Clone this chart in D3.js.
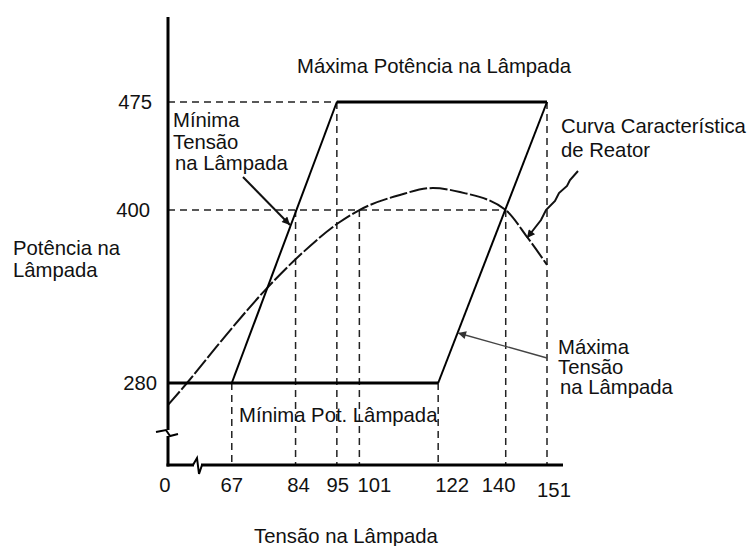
<!DOCTYPE html>
<html>
<head>
<meta charset="utf-8">
<script src="https://cdn.jsdelivr.net/npm/d3@7"></script>
<style>
  html, body { margin: 0; padding: 0; background: #fff; }
  svg { display: block; }
  text { font-family: "Liberation Sans", Arial, Helvetica, sans-serif; fill: #111; }
</style>
</head>
<body>
<svg id="chart" width="755" height="546"></svg>
<script>
// ---------- DATA ----------
const xTicks = [0, 67, 84, 95, 101, 122, 140, 151];
const yTicks = [280, 400, 475];

// Trapezoid of operating limits (tensão, potência)
const minPowerLine   = [[0, 280], [122, 280]];
const maxPowerLine   = [[95, 475], [151, 475]];
const minVoltageLine = [[67, 280], [95, 475]];
const maxVoltageLine = [[122, 280], [151, 475]];

// Ballast characteristic curve
const curveTensao   = [0, 36.7, 64.4, 75.9, 85.2, 95.8, 101, 111.8, 120.6, 127.8, 140, 145.7, 151];
const curvePotencia = [264.7, 280, 309.8, 344.5, 368.8, 391.7, 400, 410.5, 415.3, 412.5, 400, 381.3, 362];

// Dashed reference lines
const hGuides = [[475, 95], [400, 140]];           // [potência, até tensão]
const vGuides = [[67, 280], [84, 400], [95, 475], [101, 400], [122, 280], [140, 400], [151, 475]];

// ---------- SCALES ----------
const svg = d3.select("#chart");
const x = d3.scaleLinear().domain([0, 58, 151]).range([168, 198, 547]);
const y = d3.scaleLinear().domain([280, 475]).range([383, 102]);
const xAxisEnd = 563, yAxisTop = 17, xAxisY = 465;

const FS = 20.3;
const line = d3.line().x(d => x(d[0])).y(d => y(d[1]));

// markers
const defs = svg.append("defs");
function marker(id, color) {
  defs.append("marker").attr("id", id).attr("viewBox", "0 0 10 10")
    .attr("refX", 10).attr("refY", 5).attr("markerWidth", 13).attr("markerHeight", 8)
    .attr("markerUnits", "userSpaceOnUse").attr("orient", "auto")
    .append("path").attr("d", "M0,0 L10,5 L0,10 z").attr("fill", color);
}
marker("arrB", "#111");
marker("arrG", "#333");

// ---------- GUIDES ----------
const g = svg.append("g");
hGuides.forEach(([p, t]) => {
  g.append("line").attr("x1", x(0)).attr("x2", x(t)).attr("y1", y(p)).attr("y2", y(p))
    .attr("stroke", "#222").attr("stroke-width", 1.5).attr("stroke-dasharray", "7,5");
});
vGuides.forEach(([t, p]) => {
  g.append("line").attr("x1", x(t)).attr("x2", x(t)).attr("y1", y(p)).attr("y2", xAxisY)
    .attr("stroke", "#222").attr("stroke-width", 1.5).attr("stroke-dasharray", "7,5");
});

// ---------- CURVE ----------
const curveData = curveTensao.map((t, i) => [t, curvePotencia[i]]);
g.append("path").datum(curveData)
  .attr("d", d3.line().x(d => x(d[0])).y(d => y(d[1])).curve(d3.curveMonotoneX))
  .attr("fill", "none").attr("stroke", "#111").attr("stroke-width", 2)
  .attr("stroke-dasharray", "18,2.5");

// ---------- TRAPEZOID ----------
[[minPowerLine, 3], [maxPowerLine, 3], [minVoltageLine, 2], [maxVoltageLine, 2]].forEach(([d, w]) => {
  g.append("path").datum(d).attr("d", line).attr("fill", "none")
    .attr("stroke", "#000").attr("stroke-width", w).attr("stroke-linejoin", "miter");
});

// ---------- AXES ----------
const ax = svg.append("g").attr("stroke", "#000").attr("fill", "none");
// y axis with break
ax.append("path").attr("d", `M${x(0)},${yAxisTop} V430`).attr("stroke-width", 3);
ax.append("path").attr("d", `M${x(0)},436 V${xAxisY + 1.5}`).attr("stroke-width", 3);
ax.append("path").attr("d", `M156,432 L166,430 L170,436 L178,434`).attr("stroke-width", 2);
// x axis with break
ax.append("path").attr("d", `M${x(0) - 1.5},${xAxisY} H194`).attr("stroke-width", 3);
ax.append("path").attr("d", `M201,${xAxisY} H${xAxisEnd}`).attr("stroke-width", 3);
ax.append("path").attr("d", `M193,${xAxisY} L197,458 L199,474 L202,${xAxisY}`).attr("stroke-width", 2);

// ---------- TICK LABELS ----------
const tickNudge = {0: -3, 67: 0, 84: 3, 95: 1, 101: 15, 122: 14, 140: -7, 151: 7};
svg.append("g").selectAll("text").data(xTicks).join("text")
  .attr("x", d => x(d) + tickNudge[d]).attr("y", d => d === 151 ? 497 : 492)
  .attr("text-anchor", "middle").attr("font-size", FS).text(d => d);

const yNudge = {280: 157, 400: 150, 475: 152};
svg.append("g").selectAll("text").data(yTicks).join("text")
  .attr("x", d => yNudge[d]).attr("y", d => y(d) + 7)
  .attr("text-anchor", "end").attr("font-size", FS).text(d => d);

// ---------- TEXT ----------
function multi(xp, yp, lines, lh) {
  const t = svg.append("text").attr("x", xp).attr("y", yp).attr("font-size", FS);
  lines.forEach((s, i) => t.append("tspan").attr("x", xp).attr("dy", i ? lh : 0).text(s));
}
multi(297, 73, ["Máxima Potência na Lâmpada"], 0);
multi(173, 127, ["Mínima", "Tensão"], 22);
multi(175, 170, ["na Lâmpada"], 0);
multi(561, 133, ["Curva Característica", "de Reator"], 24);
multi(558, 354, ["Máxima", "Tensão"], 20);
multi(560, 394, ["na Lâmpada"], 0);
multi(239, 422, ["Mínima Pot. Lâmpada"], 0);
multi(13, 255, ["Potência na", "Lâmpada"], 22);
svg.append("text").attr("x", 346).attr("y", 543).attr("text-anchor", "middle")
  .attr("font-size", FS).text("Tensão na Lâmpada");

// ---------- ANNOTATION ARROWS ----------
svg.append("path").attr("d", "M243,177 L290,225").attr("stroke", "#111").attr("stroke-width", 2)
  .attr("fill", "none").attr("marker-end", "url(#arrB)");
svg.append("path").attr("d", "M578,171 L570,180 L567,186 L559,193 L555,201 L546,210 L541,220 L527,238")
  .attr("stroke", "#111").attr("stroke-width", 2).attr("fill", "none").attr("marker-end", "url(#arrB)");
svg.append("path").attr("d", "M547,358 L458,333").attr("stroke", "#444").attr("stroke-width", 1.4)
  .attr("fill", "none").attr("marker-end", "url(#arrG)");
</script>
</body>
</html>
